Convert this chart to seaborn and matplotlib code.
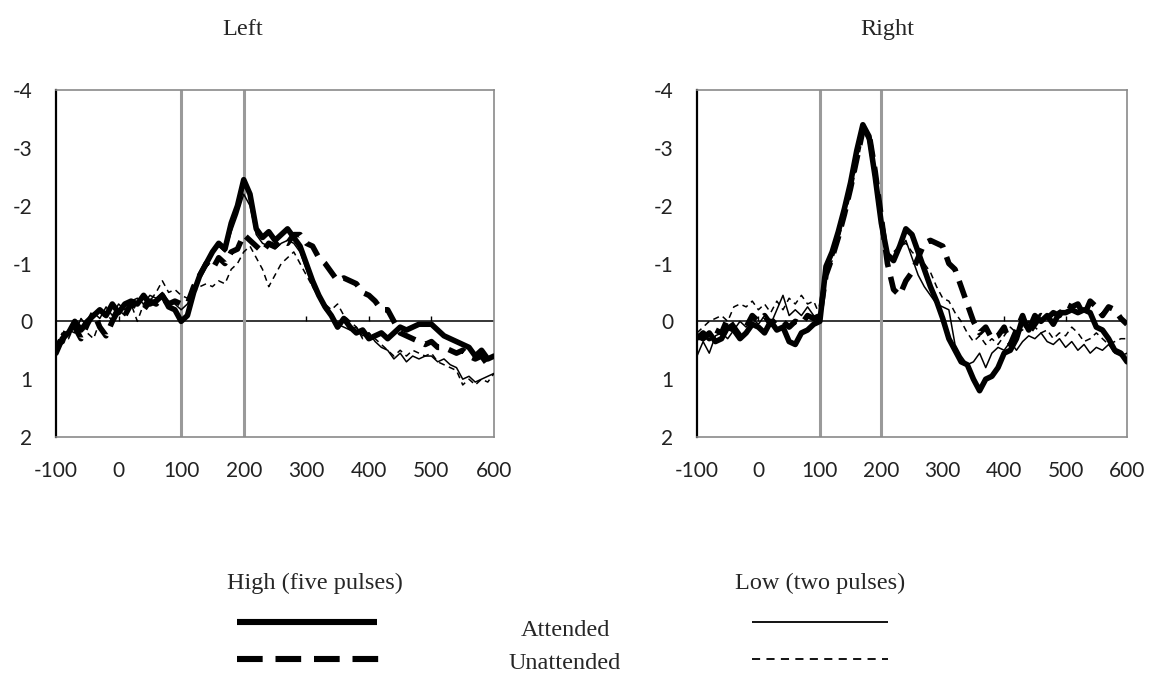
import numpy as np
import pandas as pd
import seaborn as sns
import matplotlib.pyplot as plt

# -----------------------------
# Data (amplitude per 10 ms, -100..600 ms)
# -----------------------------

time_ms = np.arange(-100, 601, 10)

left_high_att = [
    0.55, 0.3, 0.2, 0.0, 0.15, 0.0, -0.1, -0.2, -0.1, -0.3,
    -0.15, -0.3, -0.35, -0.3, -0.45, -0.3, -0.35, -0.45, -0.25, -0.2,
    0.0, -0.1, -0.5, -0.8, -1.0, -1.2, -1.35, -1.25, -1.7, -2.0,
    -2.45, -2.2, -1.6, -1.45, -1.55, -1.4, -1.5, -1.6, -1.45, -1.3,
    -1.0, -0.7, -0.45, -0.25, -0.1, 0.1, -0.05, 0.1, 0.2, 0.15,
    0.3, 0.25, 0.2, 0.3, 0.2, 0.1, 0.15, 0.1, 0.05, 0.05,
    0.05, 0.15, 0.25, 0.3, 0.35, 0.4, 0.45, 0.6, 0.5, 0.65, 0.6,
]
left_high_unatt = [
    0.4, 0.35, 0.05, 0.1, 0.3, 0.05, -0.15, 0.1, 0.25, 0.0,
    -0.2, -0.1, -0.3, -0.25, -0.2, -0.35, -0.3, -0.4, -0.3, -0.35,
    -0.3, -0.3, -0.6, -0.8, -1.0, -0.9, -1.1, -1.0, -1.2, -1.25,
    -1.5, -1.4, -1.3, -1.2, -1.35, -1.3, -1.4, -1.35, -1.5, -1.5,
    -1.35, -1.3, -1.1, -1.0, -0.85, -0.7, -0.75, -0.7, -0.65, -0.5,
    -0.45, -0.35, -0.2, -0.2, 0.0, 0.2, 0.25, 0.3, 0.35, 0.4,
    0.35, 0.45, 0.45, 0.5, 0.55, 0.5, 0.6, 0.65, 0.6, 0.75, 0.7,
]
left_low_att = [
    0.5, 0.25, 0.15, 0.2, -0.05, 0.1, -0.15, -0.05, -0.25, -0.1,
    -0.3, -0.2, -0.35, -0.4, -0.3, -0.45, -0.4, -0.5, -0.35, -0.3,
    -0.2, -0.3, -0.55, -0.85, -1.05, -1.2, -1.3, -1.2, -1.55, -1.85,
    -2.2, -2.0, -1.5, -1.35, -1.3, -1.25, -1.35, -1.4, -1.35, -1.2,
    -0.9, -0.6, -0.4, -0.2, -0.1, 0.05, 0.1, 0.15, 0.1, 0.25,
    0.2, 0.35, 0.45, 0.5, 0.65, 0.55, 0.7, 0.6, 0.65, 0.6,
    0.6, 0.7, 0.65, 0.75, 0.8, 1.0, 0.95, 1.05, 1.0, 0.95, 0.9,
]
left_low_unatt = [
    0.4, 0.2, 0.3, 0.05, 0.1, 0.2, 0.3, 0.0, -0.15, 0.0,
    -0.2, -0.1, -0.3, 0.0, -0.3, -0.35, -0.5, -0.7, -0.5, -0.55,
    -0.45, -0.4, -0.5, -0.6, -0.65, -0.6, -0.7, -0.65, -0.9, -1.0,
    -1.2, -1.3, -1.1, -0.9, -0.6, -0.8, -1.0, -1.1, -1.2, -1.0,
    -0.8, -0.6, -0.45, -0.3, -0.2, -0.3, -0.1, 0.0, 0.1, 0.3,
    0.2, 0.3, 0.4, 0.5, 0.6, 0.5, 0.6, 0.5, 0.55, 0.6,
    0.55, 0.7, 0.75, 0.8, 0.85, 1.1, 1.0, 1.1, 1.0, 1.05, 0.9,
]

right_high_att = [
    0.25, 0.3, 0.2, 0.35, 0.3, 0.1, 0.15, 0.3, 0.2, 0.05,
    0.1, 0.2, 0.0, 0.15, 0.1, 0.35, 0.4, 0.2, 0.15, 0.05,
    0.0, -0.95, -1.2, -1.55, -1.95, -2.4, -2.95, -3.4, -3.2, -2.5,
    -1.7, -1.15, -1.05, -1.3, -1.6, -1.5, -1.2, -0.9, -0.6, -0.35,
    -0.05, 0.3, 0.5, 0.7, 0.75, 1.0, 1.2, 1.0, 0.95, 0.8,
    0.55, 0.5, 0.3, -0.05, 0.15, -0.1, 0.0, -0.1, 0.05, -0.15,
    -0.15, -0.2, -0.15, -0.2, -0.15, 0.1, 0.15, 0.3, 0.5, 0.55, 0.7,
]
right_high_unatt = [
    0.3, 0.2, 0.3, 0.15, 0.2, -0.05, 0.1, 0.25, 0.1, -0.1,
    0.0, -0.1, 0.05, -0.05, 0.0, 0.1, 0.0, 0.05, -0.1, -0.05,
    -0.1, -0.8, -1.1, -1.45, -1.85, -2.3, -2.8, -3.3, -3.25, -2.6,
    -1.8, -1.0, -0.55, -0.45, -0.7, -0.85, -1.1, -1.35, -1.4, -1.35,
    -1.3, -1.0, -0.9, -0.6, -0.3, 0.0, 0.2, 0.1, 0.3, 0.25,
    0.1, 0.4, 0.15, -0.1, 0.2, 0.05, -0.1, -0.05, -0.15, -0.1,
    -0.3, -0.25, -0.3, -0.1, -0.35, -0.25, -0.1, -0.25, -0.2, -0.05, 0.05,
]
right_low_att = [
    0.6, 0.35, 0.55, 0.25, 0.2, 0.3, 0.15, 0.0, 0.1, -0.05,
    0.05, -0.1, 0.05, -0.2, -0.45, -0.1, -0.2, -0.1, -0.25, -0.1,
    0.0, -0.85, -1.15, -1.5, -1.9, -2.35, -2.9, -3.3, -3.1, -2.4,
    -1.6, -1.2, -1.1, -1.25, -1.4, -1.1, -0.8, -0.6, -0.45, -0.3,
    -0.25, -0.2, 0.4, 0.6, 0.75, 0.7, 0.55, 0.8, 0.55, 0.45,
    0.5, 0.35, 0.5, 0.35, 0.25, 0.3, 0.2, 0.35, 0.4, 0.3,
    0.45, 0.35, 0.5, 0.4, 0.55, 0.45, 0.5, 0.4, 0.55, 0.6, 0.55,
]
right_low_unatt = [
    0.2, 0.1, 0.0, -0.05, -0.1, 0.0, -0.25, -0.3, -0.25, -0.35,
    -0.2, -0.3, -0.15, -0.35, -0.2, -0.4, -0.3, -0.45, -0.3, -0.35,
    -0.1, -0.75, -1.05, -1.4, -1.8, -2.2, -2.7, -3.2, -3.2, -2.6,
    -1.7, -1.15, -1.2, -1.3, -1.35, -1.2, -1.1, -1.0, -0.85, -0.6,
    -0.4, -0.35, -0.15, 0.0, 0.2, 0.35, 0.25, 0.4, 0.3, 0.4,
    0.25, 0.1, 0.2, 0.15, 0.0, 0.1, 0.2, 0.15, 0.3, 0.2,
    0.25, 0.1, 0.2, 0.35, 0.3, 0.2, 0.3, 0.4, 0.35, 0.3, 0.3,
]

panel_titles = ["Left", "Right"]
x_ticks = [-100, 0, 100, 200, 300, 400, 500, 600]
y_ticks = [-4, -3, -2, -1, 0, 1, 2]
window_lines = [100, 200]

# -----------------------------
# Style
# -----------------------------

sns.set_style("white")
plt.rcParams["font.family"] = ["Lato", "DejaVu Sans"]
plt.rcParams["axes.unicode_minus"] = False
serif = ["Liberation Serif", "DejaVu Serif"]

thick_solid = dict(color="black", linewidth=4.0, linestyle="-")
thick_dash = dict(color="black", linewidth=4.0, linestyle=(0, (3.2, 1.8)))
thin_solid = dict(color="black", linewidth=1.1, linestyle="-")
thin_dash = dict(color="black", linewidth=1.1, linestyle=(0, (4, 3)))

fig = plt.figure(figsize=(11.57, 6.79), dpi=100)

# title x position in pixels for each panel
panels = [
    (panel_titles[0], 243, [0.0484, 0.3564, 0.3786, 0.511],
     left_high_att, left_high_unatt, left_low_att, left_low_unatt),
    (panel_titles[1], 887, [0.6024, 0.3564, 0.3717, 0.511],
     right_high_att, right_high_unatt, right_low_att, right_low_unatt),
]

for title, title_x, rect, ha, hu, la, lu in panels:
    ax = fig.add_axes(rect)
    ax.axhline(0, color="black", linewidth=1.1, zorder=1)
    ax.vlines(x_ticks[1:-1], 0, -0.1, color="black", linewidth=1.0, zorder=1)
    for xv in window_lines:
        ax.axvline(xv, color="#9a9a9a", linewidth=2.2, zorder=1)

    sns.lineplot(x=time_ms, y=ha, ax=ax, zorder=3, **thick_solid)
    sns.lineplot(x=time_ms, y=hu, ax=ax, zorder=3, **thick_dash)
    sns.lineplot(x=time_ms, y=la, ax=ax, zorder=4, **thin_solid)
    sns.lineplot(x=time_ms, y=lu, ax=ax, zorder=4, **thin_dash)

    ax.set_xlim(-100, 600)
    ax.set_ylim(2, -4)
    ax.set_xticks(x_ticks)
    ax.set_xticklabels([str(v) for v in x_ticks])
    ax.set_yticks(y_ticks)
    ax.set_yticklabels([str(v) for v in y_ticks])
    ax.tick_params(axis="both", length=0, labelsize=15, colors="#222222")
    ax.tick_params(axis="x", pad=17)
    ax.tick_params(axis="y", pad=17)
    ax.set_xlabel("")
    ax.set_ylabel("")
    for side in ["top", "right", "bottom"]:
        ax.spines[side].set_color("#8a8a8a")
        ax.spines[side].set_linewidth(1.2)
    ax.spines["left"].set_color("black")
    ax.spines["left"].set_linewidth(1.6)

    fig.text(title_x / 1157, 1 - 35 / 679, title, ha="center", va="baseline",
             fontsize=17.5, family=serif)

# -----------------------------
# Legend (custom layout)
# -----------------------------

lg = fig.add_axes([0, 0, 1, 1], zorder=-1)
lg.set_xlim(0, 1157)
lg.set_ylim(679, 0)
lg.axis("off")

lg.text(315, 589, "High (five pulses)", ha="center", va="baseline", fontsize=17.5, family=serif)
lg.text(820, 589, "Low (two pulses)", ha="center", va="baseline", fontsize=17.5, family=serif)
lg.text(565, 636, "Attended", ha="center", va="baseline", fontsize=17.5, family=serif)
lg.text(565, 669, "Unattended", ha="center", va="baseline", fontsize=17.5, family=serif)

lg.plot([237, 377], [622, 622], color="black", linewidth=4.4, solid_capstyle="butt")
lg.plot([237, 384], [659, 659], color="black", linewidth=4.4,
        linestyle=(0, (4.2, 2.1)), dash_capstyle="butt")
lg.plot([752, 888], [622, 622], color="black", linewidth=1.3, solid_capstyle="butt")
lg.plot([752, 888], [659, 659], color="black", linewidth=1.3,
        linestyle=(0, (4.5, 3.5)), dash_capstyle="butt")

fig.savefig("out.png", dpi=100)
